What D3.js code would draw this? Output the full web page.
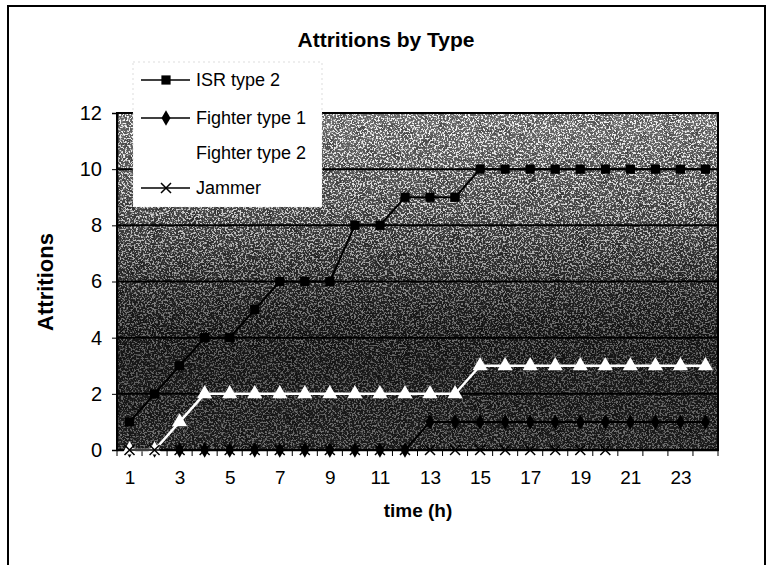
<!DOCTYPE html>
<html><head><meta charset="utf-8">
<script src="https://cdn.jsdelivr.net/npm/d3@7"></script>
<style>
html,body{margin:0;padding:0;background:#fff;}
svg{display:block;font-family:"Liberation Sans",Arial,sans-serif;}
</style></head>
<body>
<svg id="chart" width="773" height="565"></svg>
<script>
const categories = d3.range(1, 25).map(String);
const isrType2    = [1,2,3,4,4,5,6,6,6,8,8,9,9,9,10,10,10,10,10,10,10,10,10,10];
const fighterType1 = [0,0,0,0,0,0,0,0,0,0,0,0,1,1,1,1,1,1,1,1,1,1,1,1];
const fighterType2 = [0,0,1,2,2,2,2,2,2,2,2,2,2,2,3,3,3,3,3,3,3,3,3,3];
const jammer      = [0,0,0,0,0,0,0,0,0,0,0,0,0,0,0,0,0,0,0,0,null,null,null,null];
const yTicks = [0,2,4,6,8,10,12];
const xTickLabels = categories.filter((d,i)=> i % 2 === 0);
const seriesNames = ["ISR type 2","Fighter type 1","Fighter type 2","Jammer"];

const svg = d3.select("#chart");
const plot = {left:117, right:718, top:113, bottom:450};

// frame
svg.append("rect").attr("x",8).attr("y",6).attr("width",757).attr("height",570)
  .attr("fill","#fff").attr("stroke","#000").attr("stroke-width",2);

const defs = svg.append("defs");
const grad = defs.append("linearGradient").attr("id","bg").attr("x1",0).attr("y1",0).attr("x2",0).attr("y2",1);
[[0,"#6a6a6a"],[0.25,"#4a4a4a"],[0.45,"#2c2c2c"],[0.65,"#161616"],[1,"#1c1c1c"]]
  .forEach(([o,c])=>grad.append("stop").attr("offset",o).attr("stop-color",c));
const mg = defs.append("linearGradient").attr("id","mg").attr("x1",0).attr("y1",0).attr("x2",0).attr("y2",1);
[[0,"#fff"],[0.3,"#ccc"],[0.55,"#777"],[0.75,"#555"],[1,"#666"]]
  .forEach(([o,c])=>mg.append("stop").attr("offset",o).attr("stop-color",c));
defs.append("mask").attr("id","fade").append("rect")
  .attr("x",plot.left).attr("y",plot.top).attr("width",plot.right-plot.left).attr("height",plot.bottom-plot.top)
  .attr("fill","url(#mg)");
const f = defs.append("filter").attr("id","noise").attr("x",0).attr("y",0).attr("width","100%").attr("height","100%");
f.append("feTurbulence").attr("type","fractalNoise").attr("baseFrequency",0.55).attr("numOctaves",3).attr("seed",7).attr("result","t");
f.append("feColorMatrix").attr("in","t").attr("type","matrix")
  .attr("values","0 0 0 0 1  0 0 0 0 1  0 0 0 0 1  7 0 0 0 -3.4");
const f2 = defs.append("filter").attr("id","noise2").attr("x",0).attr("y",0).attr("width","100%").attr("height","100%");
f2.append("feTurbulence").attr("type","fractalNoise").attr("baseFrequency",0.08).attr("numOctaves",2).attr("seed",3).attr("result","t");
f2.append("feColorMatrix").attr("in","t").attr("type","matrix")
  .attr("values","0 0 0 0 0  0 0 0 0 0  0 0 0 0 0  2.5 0 0 0 -1.2");

const x = d3.scalePoint().domain(categories).range([plot.left, plot.right]).padding(0.5);
const y = d3.scaleLinear().domain([0,12]).range([plot.bottom, plot.top]);
const step = x.step();

// plot background
const pr = () => svg.append("rect").attr("x",plot.left).attr("y",plot.top)
  .attr("width",plot.right-plot.left).attr("height",plot.bottom-plot.top);
pr().attr("fill","url(#bg)");
pr().attr("filter","url(#noise2)").attr("opacity",0.35);
pr().attr("filter","url(#noise)").attr("mask","url(#fade)").attr("opacity",0.95);

// gridlines
svg.append("g").selectAll("line").data(yTicks.filter(d=>d>0)).join("line")
  .attr("x1",plot.left).attr("x2",plot.right).attr("y1",d=>y(d)).attr("y2",d=>y(d))
  .attr("stroke","#000").attr("stroke-width",2);

// border of plot
pr().attr("fill","none").attr("stroke","#000").attr("stroke-width",2);

// y axis
const yAxis = svg.append("g").attr("transform",`translate(${plot.left},0)`)
  .call(d3.axisLeft(y).tickValues(yTicks).tickSize(5).tickPadding(10).tickFormat(d3.format("d")));
yAxis.select(".domain").attr("stroke","#000").attr("stroke-width",1.5);
yAxis.selectAll("text").attr("font-size",20).attr("fill","#000").attr("font-family","Liberation Sans, Arial, sans-serif");

// x axis
const xAxis = svg.append("g").attr("transform",`translate(0,${plot.bottom})`)
  .call(d3.axisBottom(x).tickValues(xTickLabels).tickSize(0).tickPadding(21));
xAxis.select(".domain").attr("stroke","#000").attr("stroke-width",1.5);
xAxis.selectAll("text").attr("font-size",19).attr("fill","#000").attr("font-family","Liberation Sans, Arial, sans-serif");
const bounds = categories.map(c=>x(c)-step/2).concat([x(categories[categories.length-1])+step/2]);
svg.append("g").selectAll("line").data(bounds).join("line")
  .attr("x1",d=>d).attr("x2",d=>d)
  .attr("y1",plot.bottom).attr("y2",plot.bottom+6).attr("stroke","#000").attr("stroke-width",1);

// series
const line = d3.line().defined(d=>d.v!=null).x(d=>x(d.c)).y(d=>y(d.v));
const mk = vals => categories.map((c,i)=>({c, v: vals[i]}));
const sym = (type,size)=> d3.symbol().type(type).size(size)();
const xPath = s => `M${-s},${-s}L${s},${s}M${-s},${s}L${s},${-s}`;

const series = [
  {name:seriesNames[0], data:mk(isrType2), color:"#000", width:2, marker: ()=>sym(d3.symbolSquare,85), fill:"#000", stroke:"none"},
  {name:seriesNames[1], data:mk(fighterType1), color:"#000", width:2, marker: ()=>sym(d3.symbolDiamond,70), fill:"#000", stroke:"none"},
  {name:seriesNames[2], data:mk(fighterType2), color:"#fff", width:2.5, marker: ()=>sym(d3.symbolTriangle,100), fill:"#fff", stroke:"none"},
  {name:seriesNames[3], data:mk(jammer), color:"#000", width:1.5, marker: ()=>xPath(5), fill:"none", stroke:"#000"}
];

series.forEach(s=>{
  const g = svg.append("g");
  g.append("path").datum(s.data).attr("d",line).attr("fill","none").attr("stroke",s.color).attr("stroke-width",s.width);
  g.selectAll("path.m").data(s.data.filter(d=>d.v!=null)).join("path").attr("class","m")
    .attr("transform",d=>`translate(${x(d.c)},${y(d.v)})`).attr("d",s.marker())
    .attr("fill",s.fill).attr("stroke",s.stroke).attr("stroke-width",1.5);
});

// legend
const lg = svg.append("g");
lg.append("rect").attr("x",133).attr("y",62).attr("width",189).attr("height",145).attr("fill","#fff").attr("stroke","#bbb").attr("stroke-width",0.5).attr("stroke-dasharray","2,3");
const ly = [80,118,153,188];
series.forEach((s,i)=>{
  const g = lg.append("g").attr("transform",`translate(0,${ly[i]})`);
  if (s.color !== "#fff") {
    g.append("line").attr("x1",141).attr("x2",190).attr("y1",0).attr("y2",0).attr("stroke",s.color).attr("stroke-width",1.5);
    g.append("path").attr("transform","translate(166,0)").attr("d",s.marker()).attr("fill",s.fill).attr("stroke",s.stroke).attr("stroke-width",1.5);
  }
  g.append("text").attr("x",196).attr("y",0).attr("dy","0.36em").attr("font-size",18).attr("fill","#000").text(s.name);
});

// titles
svg.append("text").attr("x",386).attr("y",47).attr("text-anchor","middle").attr("font-size",21).attr("font-weight","bold").text("Attritions by Type");
svg.append("text").attr("x",418).attr("y",517).attr("text-anchor","middle").attr("font-size",19).attr("font-weight","bold").text("time (h)");
svg.append("text").attr("transform","translate(53,282) rotate(-90)").attr("text-anchor","middle").attr("font-size",22).attr("font-weight","bold").text("Attritions");
</script>
</body></html>
